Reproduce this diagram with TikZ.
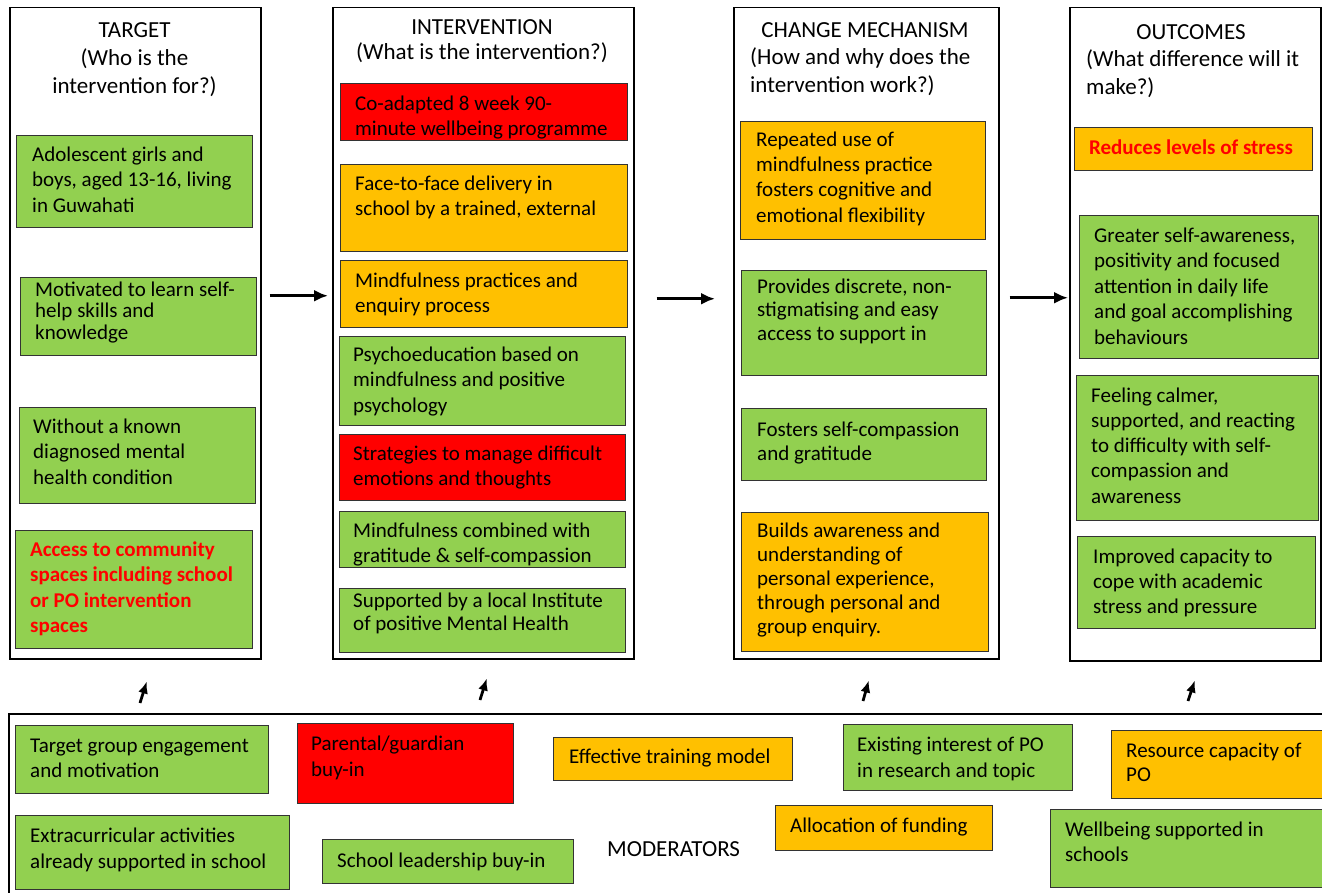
\documentclass[tikz,border=0pt]{standalone}
\usepackage{fontspec}
\setmainfont{Carlito}
\usetikzlibrary{arrows.meta,calc}
\definecolor{gr}{HTML}{92D050}
\definecolor{og}{HTML}{FFC000}
\definecolor{rd}{HTML}{FF0000}
\newcommand\mybox[6]{\node[#1,minimum width={#5-#3},minimum height={#6-#4}] (#2) at (#3,#4) {};}
\newcommand\mytxt[6]{\node[txt=#4,#5] (#1) at (#2,{#3+6-0.7*#4}) {\strut#6};}
\begin{document}
\begin{tikzpicture}[x=1pt,y=-1pt,
 col/.style={draw=black,line width=1.5pt,fill=white,inner sep=0pt,anchor=north west},
 bx/.style={draw=black!80,line width=1.2pt,inner sep=0pt,anchor=north west},
 gbox/.style={bx,fill=gr}, obox/.style={bx,fill=og}, rbox/.style={bx,fill=rd},
 txt/.style={font=\fontsize{21}{#1}\selectfont,align=left,inner sep=0pt,anchor=north west},
 txt/.default=25.5,
 ttl/.style={font=\fontsize{23}{#1}\selectfont,inner sep=0pt},
 ttl/.default=28,
 hot/.style={text=rd,font=\fontsize{21}{25.5}\selectfont\bfseries},
 harr/.style={line width=2.8pt,-{Latex[length=14pt,width=12pt]}},
 uarr/.style={line width=2.8pt,-{Latex[length=12pt,width=10pt]}}]
\useasboundingbox (0,0) rectangle (1322,893);
\clip (0,0) rectangle (1322,893);
\fill[white] (0,0) rectangle (1322,893);
% columns
\mybox{col}{colA}{9}{7}{260}{658}
\mybox{col}{colB}{332}{7}{633}{658}
\mybox{col}{colC}{733}{7}{998}{658}
\mybox{col}{colD}{1069}{7}{1320}{660}
\mybox{col}{modbox}{8}{713}{1345}{920}
% titles
\node[ttl,align=center,anchor=north] (tA) at (134.5,17.9) {\strut TARGET\\(Who is the\\intervention for?)};
\node[ttl=23,align=center,anchor=north] (tB) at (482,18.4) {\strut INTERVENTION\\(What is the intervention?)};
\node[ttl,anchor=north] (tC) at (865,17.9) {\strut CHANGE MECHANISM};
\node[ttl,align=left,anchor=north west] (tC2) at (750,44.4) {\strut(How and why does the\\intervention work?)};
\node[ttl,anchor=north] (tD) at (1191,19.9) {\strut OUTCOMES};
\node[ttl,align=left,anchor=north west] (tD2) at (1086,46.4) {\strut(What difference will it\\make?)};
% TARGET boxes
\mybox{gbox}{a1}{16}{135}{252}{227}
\mytxt{a1t}{32}{155}{25.5}{}{Adolescent girls and\\boys, aged 13-16, living\\in Guwahati}
\mybox{gbox}{a2}{20}{277}{256}{355}
\mytxt{a2t}{35}{290}{21.5}{}{Motivated to learn self-\\help skills and\\knowledge}
\mybox{gbox}{a3}{19}{407}{255}{503}
\mytxt{a3t}{33}{427}{25.5}{}{Without a known\\diagnosed mental\\health condition}
\mybox{gbox}{a4}{15}{530}{252}{648}
\mytxt{a4t}{30}{550}{25.3}{hot}{Access to community\\spaces including school\\or PO intervention\\spaces}
% INTERVENTION boxes
\mybox{rbox}{b1}{340}{83}{627}{140}
\mytxt{b1t}{355}{104}{25}{}{Co-adapted 8 week 90-\\minute wellbeing programme}
\mybox{obox}{b2}{340}{164}{627}{251}
\mytxt{b2t}{355}{184}{25}{}{Face-to-face delivery in\\school by a trained, external}
\mybox{obox}{b3}{340}{260}{627}{327}
\mytxt{b3t}{355}{281}{25}{}{Mindfulness practices and\\enquiry process}
\mybox{gbox}{b4}{339}{336}{625}{425}
\mytxt{b4t}{353}{355}{25.5}{}{Psychoeducation based on\\mindfulness and positive\\psychology}
\mybox{rbox}{b5}{339}{434}{625}{500}
\mytxt{b5t}{353}{454}{25}{}{Strategies to manage difficult\\emotions and thoughts}
\mybox{gbox}{b6}{339}{511}{625}{567}
\mytxt{b6t}{353}{531}{25}{}{Mindfulness combined with\\gratitude \& self-compassion}
\mybox{gbox}{b7}{339}{588}{625}{652}
\mytxt{b7t}{353}{601}{23}{}{Supported by a local Institute\\of positive Mental Health}
% CHANGE MECHANISM boxes
\mybox{obox}{c1}{740}{121}{985}{239}
\mytxt{c1t}{756}{140}{25.3}{}{Repeated use of\\mindfulness practice\\fosters cognitive and\\emotional flexibility}
\mybox{gbox}{c2}{741}{270}{986}{375}
\mytxt{c2t}{757}{287}{23.5}{}{Provides discrete, non-\\stigmatising and easy\\access to support in}
\mybox{gbox}{c3}{741}{408}{986}{480}
\mytxt{c3t}{757}{430}{24}{}{Fosters self-compassion\\and gratitude}
\mybox{obox}{c4}{741}{512}{988}{651}
\mytxt{c4t}{757}{531}{24}{}{Builds awareness and\\understanding of\\personal experience,\\through personal and\\group enquiry.}
% OUTCOMES boxes
\mybox{obox}{d1}{1074}{127}{1312}{170}
\node[txt,hot,anchor=north] (d1t) at (1191,{148+6-17.85}) {\strut Reduces levels of stress};
\mybox{gbox}{d2}{1079}{215}{1318}{358}
\mytxt{d2t}{1094}{236}{25.5}{}{Greater self-awareness,\\positivity and focused\\attention in daily life\\and goal accomplishing\\behaviours}
\mybox{gbox}{d3}{1076}{375}{1318}{520}
\mytxt{d3t}{1091}{396}{25.2}{}{Feeling calmer,\\supported, and reacting\\to difficulty with self-\\compassion and\\awareness}
\mybox{gbox}{d4}{1077}{536}{1315}{628}
\mytxt{d4t}{1093}{557}{25}{}{Improved capacity to\\cope with academic\\stress and pressure}
% horizontal arrows
\draw[harr] ([shift={(8,-37.5)}]colA.east) -- ([shift={(-4,-37.5)}]colB.west);
\draw[harr] ([shift={(22,-34.5)}]colB.east) -- ([shift={(-18,-34.5)}]colC.west);
\draw[harr] ([shift={(10,-35.5)}]colC.east) -- ([shift={(-1,-36.5)}]colD.west);
% up arrows
\coordinate (uA) at (140,703);
\coordinate (uB) at (480,700);
\coordinate (uC) at (863,701);
\coordinate (uD) at (1188,701);
\draw[uarr] (uA) -- ([shift={(11.5,22)}]colA.south);
\draw[uarr] (uB) -- ([shift={(3.5,19)}]colB.south);
\draw[uarr] (uC) -- ([shift={(2.5,21)}]colC.south);
\draw[uarr] (uD) -- ([shift={(-0.5,19)}]colD.south);
% moderators
\mybox{gbox}{m1}{15}{725}{268}{793}
\mytxt{m1t}{30}{746}{25}{}{Target group engagement\\and motivation}
\mybox{rbox}{m2}{297}{723}{513}{803}
\mytxt{m2t}{311}{744}{26}{}{Parental/guardian\\buy-in}
\mybox{obox}{m3}{553}{737}{792}{780}
\mytxt{m3t}{569}{757}{25}{}{Effective training model}
\mybox{gbox}{m4}{843}{724}{1072}{790}
\mytxt{m4t}{857}{745}{26}{}{Existing interest of PO\\in research and topic}
\mybox{obox}{m5}{1111}{730}{1340}{798}
\mytxt{m5t}{1126}{751}{24}{}{Resource capacity of\\PO}
\mybox{gbox}{m6}{15}{815}{289}{889}
\mytxt{m6t}{30}{836}{26}{}{Extracurricular activities\\already supported in school}
\mybox{gbox}{m7}{322}{839}{573}{883}
\mytxt{m7t}{337}{861}{25}{}{School leadership buy-in}
\mybox{obox}{m8}{775}{805}{992}{850}
\mytxt{m8t}{790}{826}{25}{}{Allocation of funding}
\mybox{gbox}{m9}{1050}{809}{1340}{887}
\mytxt{m9t}{1065}{830}{25}{}{Wellbeing supported in\\schools}
\node[ttl,anchor=base west] (modt) at (607,856.5) {MODERATORS};
\end{tikzpicture}
\end{document}
